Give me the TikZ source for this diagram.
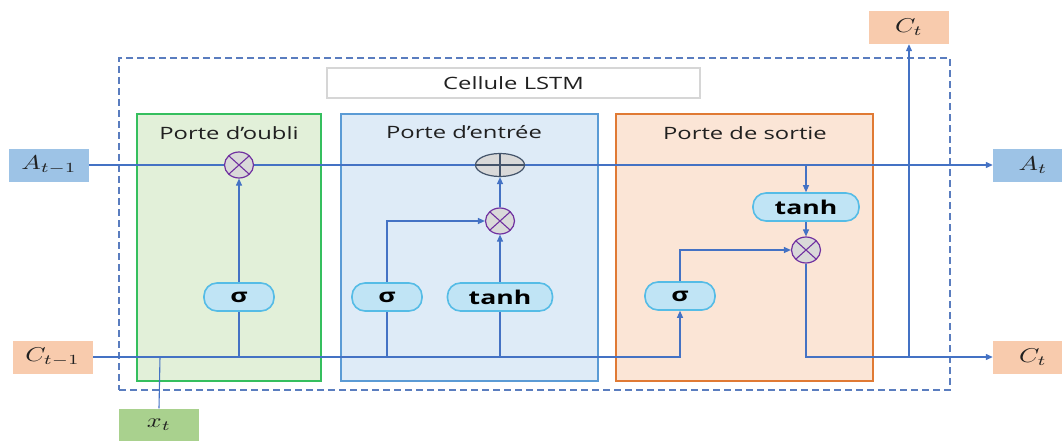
\documentclass[tikz,border=0pt]{standalone}
\usepackage{fontspec}
\setmainfont{Open Sans}
\usepackage{graphicx}
\usetikzlibrary{arrows.meta,shapes.geometric}
\definecolor{lineblue}{HTML}{4472C4}
\definecolor{aboxc}{HTML}{9DC3E6}
\definecolor{cboxc}{HTML}{F8CBAD}
\definecolor{xboxc}{HTML}{A9D18E}
\definecolor{gfill}{HTML}{E2F0D9}
\definecolor{gdraw}{HTML}{35BF5E}
\definecolor{bfill}{HTML}{DEEBF7}
\definecolor{bdraw}{HTML}{5B9BD5}
\definecolor{ofill}{HTML}{FBE5D6}
\definecolor{odraw}{HTML}{E07A34}
\definecolor{cfill}{HTML}{D9D9D9}
\definecolor{cdraw}{HTML}{7030A0}
\definecolor{pdraw}{HTML}{44546A}
\definecolor{pillfill}{HTML}{C0E4F5}
\definecolor{pilldraw}{HTML}{55BCE6}
\definecolor{dashc}{HTML}{5A7DBF}
\definecolor{titled}{HTML}{D6D6D6}
\definecolor{txt}{HTML}{202020}
\newcommand{\wx}[2][1.4]{\scalebox{#1}[1]{#2}}
\newcommand{\mlab}[2][2.6]{\scalebox{#1}[2.0]{$#2$}}
\pgfdeclarelayer{boxes}
\pgfdeclarelayer{lines}
\pgfsetlayers{boxes,lines,main}
\tikzset{
  conn/.style={draw=lineblue, line width=1.1pt},
  arr/.style={conn, -{Triangle[length=7pt,width=6pt]}},
  gatebox/.style={line width=1.4pt, minimum height=267pt, inner sep=0pt},
  gatelbl/.style={inner sep=0pt, text=txt, font=\fontsize{17}{20}\selectfont},
  iobox/.style={minimum width=80pt, minimum height=33pt, inner sep=0pt, text=txt, font=\normalsize},
  pill/.style={draw=pilldraw, fill=pillfill, line width=1.6pt, rounded corners=13pt, minimum height=28pt, inner sep=0pt, font=\fontsize{19}{21}\selectfont\bfseries},
  mult/.style={ellipse, draw=cdraw, fill=cfill, line width=1.2pt, minimum width=29pt, minimum height=26pt, inner sep=0pt,
    path picture={\draw[cdraw, line width=1.1pt] (path picture bounding box.north west) -- (path picture bounding box.south east)
      (path picture bounding box.south west) -- (path picture bounding box.north east);}},
  addop/.style={ellipse, draw=pdraw, fill=cfill, line width=1.2pt, minimum width=49pt, minimum height=23pt, inner sep=0pt,
    path picture={\draw[pdraw, line width=1.1pt] (path picture bounding box.north) -- (path picture bounding box.south)
      (path picture bounding box.west) -- (path picture bounding box.east);}}
}
\begin{document}
\begin{tikzpicture}[x=1pt,y=-1pt]
\useasboundingbox (0,0) rectangle (1062,441);
% frames
\begin{pgfonlayer}{boxes}
\node[draw=dashc, line width=1.2pt, dash pattern=on 7pt off 4pt, minimum width=831pt, minimum height=332pt, inner sep=0pt] (cell) at (534.5,224) {};
\node[draw=titled, line width=2pt, minimum width=373pt, minimum height=30pt, inner sep=0pt, text=txt, font=\fontsize{17}{20}\selectfont] (title) at (513.5,83) {\wx{Cellule LSTM}};
\node[gatebox, draw=gdraw, fill=gfill, minimum width=184pt] (gf) at (229,247.5) {};
\node[gatebox, draw=bdraw, fill=bfill, minimum width=257pt] (gi) at (469.5,247.5) {};
\node[gatebox, draw=odraw, fill=ofill, minimum width=257pt] (go) at (744.5,247.5) {};
\end{pgfonlayer}
\node[gatelbl] (lf) at (229,133) {\wx{Porte d’oubli}};
\node[gatelbl] (li) at (464,132) {\wx{Porte d’entrée}};
\node[gatelbl] (lo) at (745,133) {\wx{Porte de sortie}};
% inputs / outputs
\node[iobox, fill=aboxc] (Am) at (49,165) {\mlab{A_{t-1}}};
\node[iobox, fill=cboxc] (Cm) at (52.5,357) {\mlab{C_{t-1}}};
\node[iobox, fill=xboxc] (xt) at (159,425) {\mlab{x_t}};
\node[iobox, fill=cboxc] (Ctop) at (909,27.5) {\mlab{C_t}};
\node[iobox, fill=aboxc] (At) at (1033,165) {\mlab{A_t}};
\node[iobox, fill=cboxc] (Ct) at (1033,357) {\mlab{C_t}};
% operators
\node[mult] (mf) at (239,165) {};
\node[addop] (plus) at (500,165) {};
\node[mult] (mi) at (500,221) {};
\node[mult] (mo) at (806,250) {};
% activations
\node[pill, minimum width=70pt] (fsig) at (239,297) {\wx[1.4]{σ}};
\node[pill, minimum width=70pt] (isig) at (387,297) {\wx[1.4]{σ}};
\node[pill, minimum width=105pt] (itanh) at (500,297) {\wx[1.4]{tanh}};
\node[pill, minimum width=70pt] (osig) at (680,296) {\wx[1.4]{σ}};
\node[pill, minimum width=106pt] (otanh) at (806,207) {\wx[1.4]{tanh}};
% junctions
\coordinate (jx) at (160,357);
\coordinate (jA) at (806,165);
\coordinate (jC) at (909,357);
% connectors
\begin{pgfonlayer}{lines}
\draw[conn] (Am.east) -- (mf.west);
\draw[conn] (mf.east) -- (plus.west);
\draw[arr] (plus.east) -- (At.west);
\draw[arr] (Cm.east) -| (osig.south);
\draw[conn] (xt.north) -- (jx);
\draw[conn] (fsig.south) -- (fsig.south |- Cm.east);
\draw[arr] (fsig.north) -- (mf.south);
\draw[conn] (isig.south) -- (isig.south |- Cm.east);
\draw[conn] (itanh.south) -- (itanh.south |- Cm.east);
\draw[arr] (isig.north) |- (mi.west);
\draw[arr] (itanh.north) -- (mi.south);
\draw[arr] (mi.north) -- (plus.south);
\draw[arr] (jA) -- (otanh.north);
\draw[arr] (otanh.south) -- (mo.north);
\draw[arr] (osig.north) |- (mo.west);
\draw[arr] (mo.south) |- (Ct.west);
\draw[arr] (jC) -- (Ctop.south);
\end{pgfonlayer}
\end{tikzpicture}
\end{document}
